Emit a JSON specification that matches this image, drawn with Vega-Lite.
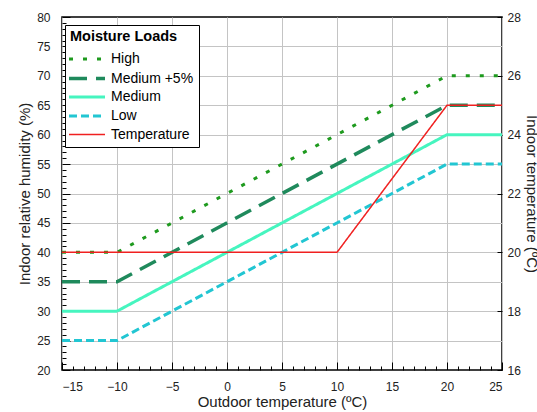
{
  "$schema": "https://vega.github.io/schema/vega-lite/v6.json",
  "width": 440,
  "height": 353,
  "autosize": {"type": "none"},
  "padding": {"left": 62, "top": 17, "right": 35, "bottom": 42},
  "background": "white",
  "config": {
    "font": "Liberation Sans",
    "view": {"stroke": "black", "strokeWidth": 1.5},
    "axis": {"labelFont": "Liberation Sans", "titleFont": "Liberation Sans", "labelFontSize": 12, "titleFontSize": 15, "titleFontWeight": "normal", "labelColor": "#222", "titleColor": "#222", "domain": false, "tickColor": "black", "gridColor": "#c4c4c4", "gridWidth": 1},
    "legend": {"orient": "none", "legendX": 3, "legendY": 8, "padding": 5, "strokeColor": "black", "fillColor": "white", "cornerRadius": 0, "symbolType": "M-1.3,0H2.3", "symbolSize": 400, "titleFont": "Liberation Sans", "titleFontSize": 14.5, "titleFontWeight": "bold", "titleColor": "black", "labelFont": "Liberation Sans", "labelFontSize": 14, "labelColor": "black", "rowPadding": -3, "labelOffset": 17, "titlePadding": 3}
  },
  "data": {"values": [
    {"x": -15, "series": "High", "v": 40},
    {"x": -10, "series": "High", "v": 40},
    {"x": 20, "series": "High", "v": 70},
    {"x": 25, "series": "High", "v": 70},
    {"x": -15, "series": "Medium +5%", "v": 35},
    {"x": -10, "series": "Medium +5%", "v": 35},
    {"x": 20, "series": "Medium +5%", "v": 65},
    {"x": 25, "series": "Medium +5%", "v": 65},
    {"x": -15, "series": "Medium", "v": 30},
    {"x": -10, "series": "Medium", "v": 30},
    {"x": 20, "series": "Medium", "v": 60},
    {"x": 25, "series": "Medium", "v": 60},
    {"x": -15, "series": "Low", "v": 25},
    {"x": -10, "series": "Low", "v": 25},
    {"x": 20, "series": "Low", "v": 55},
    {"x": 25, "series": "Low", "v": 55},
    {"x": -15, "series": "Temperature", "v": 20},
    {"x": 10, "series": "Temperature", "v": 20},
    {"x": 20, "series": "Temperature", "v": 25},
    {"x": 25, "series": "Temperature", "v": 25}
  ]},
  "encoding": {
    "x": {"field": "x", "type": "quantitative", "scale": {"domain": [-15, 25], "nice": false},
      "axis": {"title": "Outdoor temperature (ºC)", "values": [-15,-14,-13,-12,-11,-10,-9,-8,-7,-6,-5,-4,-3,-2,-1,0,1,2,3,4,5,6,7,8,9,10,11,12,13,14,15,16,17,18,19,20,21,22,23,24,25],
        "labelExpr": "datum.value % 5 === 0 ? datum.label : ''",
        "tickSize": {"condition": {"test": "datum.value % 5 === 0", "value": -8}, "value": -4},
        "gridOpacity": {"condition": {"test": "datum.value % 5 === 0", "value": 1}, "value": 0},
        "labelPadding": 19, "titlePadding": 2}},
    "color": {"field": "series", "type": "nominal", "title": "Moisture Loads",
      "scale": {"domain": ["High", "Medium +5%", "Medium", "Low", "Temperature"], "range": ["#1e9a1e", "#1f8a5c", "#46f5bf", "#22c6d2", "#f02020"]}},
    "strokeDash": {"field": "series", "type": "nominal", "title": "Moisture Loads",
      "scale": {"domain": ["High", "Medium +5%", "Medium", "Low", "Temperature"], "range": [[4, 10], [18, 9], [1, 0], [8, 4], [1, 0]]}},
    "strokeWidth": {"field": "series", "type": "ordinal", "title": "Moisture Loads",
      "scale": {"type": "ordinal", "domain": ["High", "Medium +5%", "Medium", "Low", "Temperature"], "range": [3, 3.5, 3, 3, 1.5]}}
  },
  "layer": [
    {
      "transform": [{"filter": "datum.series !== 'Temperature'"}],
      "mark": {"type": "line"},
      "encoding": {
        "y": {"field": "v", "type": "quantitative", "scale": {"domain": [20, 80], "nice": false},
          "axis": {"title": "Indoor relative humidity (%)", "orient": "left",
            "values": [20,21,22,23,24,25,26,27,28,29,30,31,32,33,34,35,36,37,38,39,40,41,42,43,44,45,46,47,48,49,50,51,52,53,54,55,56,57,58,59,60,61,62,63,64,65,66,67,68,69,70,71,72,73,74,75,76,77,78,79,80],
            "labelExpr": "datum.value % 5 === 0 ? datum.label : ''",
            "tickSize": {"condition": {"test": "datum.value % 5 === 0", "value": -8}, "value": -4},
            "gridOpacity": {"condition": {"test": "datum.value % 5 === 0 && datum.value > 20 && datum.value < 80", "value": 1}, "value": 0},
            "labelPadding": 20, "titlePadding": 4}}
      }
    },
    {
      "transform": [{"filter": "datum.series === 'Temperature'"}],
      "mark": {"type": "line"},
      "encoding": {
        "y": {"field": "v", "type": "quantitative", "scale": {"domain": [16, 28], "nice": false},
          "axis": {"title": "Indoor temperature (ºC)", "orient": "right", "values": [16, 18, 20, 22, 24, 26, 28], "grid": false, "tickSize": -5, "labelPadding": 10, "titlePadding": 3}}
      }
    }
  ],
  "resolve": {"scale": {"y": "independent"}, "axis": {"y": "independent"}}
}
